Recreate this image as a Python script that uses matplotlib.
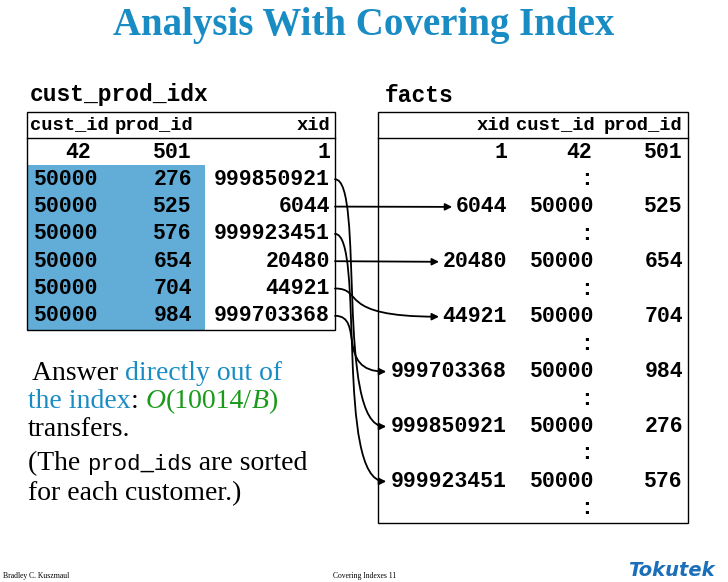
import matplotlib
matplotlib.use("Agg")
import matplotlib.pyplot as plt
from matplotlib.patches import Rectangle, FancyArrowPatch
from matplotlib.path import Path

title = "Analysis With Covering Index"
left_label, right_label = "cust_prod_idx", "facts"
left_header = ["cust_id", "prod_id", "xid"]
left_rows = [("42", "501", "1"), ("50000", "276", "999850921"), ("50000", "525", "6044"),
             ("50000", "576", "999923451"), ("50000", "654", "20480"),
             ("50000", "704", "44921"), ("50000", "984", "999703368")]
right_header = ["xid", "cust_id", "prod_id"]
right_rows = [("1", "42", "501"), None, ("6044", "50000", "525"), None,
              ("20480", "50000", "654"), None, ("44921", "50000", "704"), None,
              ("999703368", "50000", "984"), None, ("999850921", "50000", "276"), None,
              ("999923451", "50000", "576"), None]

BLUE = "#1a8cc4"
fig = plt.figure(figsize=(7.28, 5.82), dpi=100)
ax = fig.add_axes([0, 0, 1, 1])
ax.set_xlim(0, 728); ax.set_ylim(582, 0); ax.axis("off")
MONO = "Liberation Mono"; SERIF = "Liberation Serif"
DS = 15.5

ax.text(364, 26, title, ha="center", va="center", fontsize=28, fontweight="bold",
        family=SERIF, color=BLUE)
ax.text(30, 95, left_label, ha="left", va="center", fontsize=16.5, fontweight="bold", family=MONO)
ax.text(385, 95, right_label, ha="left", va="center", fontsize=16.5, fontweight="bold", family=MONO)

# left table
ax.add_patch(Rectangle((27, 165), 178, 165, color="#62acd8", lw=0, zorder=0))
ax.add_patch(Rectangle((27, 112), 308, 218, fill=False, lw=1, ec="black"))
ax.plot([27, 335], [138, 138], color="black", lw=1)
for t, x, ha in zip(left_header, [30, 115, 330], ["left", "left", "right"]):
    ax.text(x, 125, t, ha=ha, va="center", fontsize=13.5, fontweight="bold", family=MONO)
row_y = lambda i: 152 + 27.3 * i
lx = [98, 192, 330]
for i, r in enumerate(left_rows):
    y = row_y(i)
    for t, x in zip(r, lx):
        xx = x - 7 if (i == 0 and t == "42") else x
        ax.text(xx, y, t, ha="right", va="center", fontsize=DS, fontweight="bold", family=MONO)

# right table
ax.add_patch(Rectangle((378, 112), 310, 411, fill=False, lw=1, ec="black"))
ax.plot([378, 688], [138, 138], color="black", lw=1)
for t, x, ha in zip(right_header, [510, 516, 604], ["right", "left", "left"]):
    ax.text(x, 125, t, ha=ha, va="center", fontsize=13.5, fontweight="bold", family=MONO)
rx = [507, 594, 683]
right_pos = {}
for i, r in enumerate(right_rows):
    y = 152 + 27.45 * i
    if r is None:
        ax.text(587, y, ":", ha="center", va="center", fontsize=DS, fontweight="bold", family=MONO)
        continue
    right_pos[r[0]] = y
    for j, (t, x) in enumerate(zip(r, rx)):
        xx = x - 2 if (i == 0 and j == 1) else x
        ax.text(xx, y, t, ha="right", va="center", fontsize=DS, fontweight="bold", family=MONO)

# arrows
for i, r in enumerate(left_rows[1:], start=1):
    y0 = row_y(i); xid = r[2]; y1 = right_pos[xid]
    x1 = 507 - 13.2 * len(xid) - 2
    if abs(y1 - y0) < 3:
        verts = [(335, y0), (x1, y1)]; codes = [Path.MOVETO, Path.LINETO]
    else:
        verts = [(335, y0), (365, y0), (335, y1), (x1, y1)]
        codes = [Path.MOVETO, Path.CURVE4, Path.CURVE4, Path.CURVE4]
    ax.add_patch(FancyArrowPatch(path=Path(verts, codes), arrowstyle="-|>",
                                 mutation_scale=10, lw=1.3, color="black"))

# body text
fig.canvas.draw()
rend = fig.canvas.get_renderer()
BS = 20
def seq(x, y, parts):
    for t, kw in parts:
        tx = ax.text(x, y, t, ha="left", va="baseline", fontsize=BS, family=SERIF, **kw)
        x += tx.get_window_extent(rend).width
seq(32, 380, [("Answer ", {}), ("directly out of", {"color": BLUE})])
seq(28, 408, [("the index", {"color": BLUE}), (": ", {}),
              ("O", {"color": "#1a9a1a", "style": "italic"}), ("(10014/", {"color": "#1a9a1a"}),
              ("B", {"color": "#1a9a1a", "style": "italic"}), (")", {"color": "#1a9a1a"})])
seq(28, 436, [("transfers.", {})])
x = 28
for t, f in [("(The ", SERIF), ("prod_id", MONO), ("s are sorted", SERIF)]:
    tx = ax.text(x, 470, t, ha="left", va="baseline", fontsize=BS if f == SERIF else 16, family=f)
    x += tx.get_window_extent(rend).width
seq(28, 500, [("for each customer.)", {})])

ax.text(3, 576, "Bradley C. Kuszmaul", fontsize=5.5, family=SERIF, va="center")
ax.text(365, 576, "Covering Indexes 11", fontsize=5.5, family=SERIF, va="center", ha="center")
ax.text(715, 570, "Tokutek", fontsize=14, family="DejaVu Sans", fontweight="bold",
        style="italic", color="#1a6fb8", ha="right", va="center")
fig.savefig("out.png", dpi=100)
